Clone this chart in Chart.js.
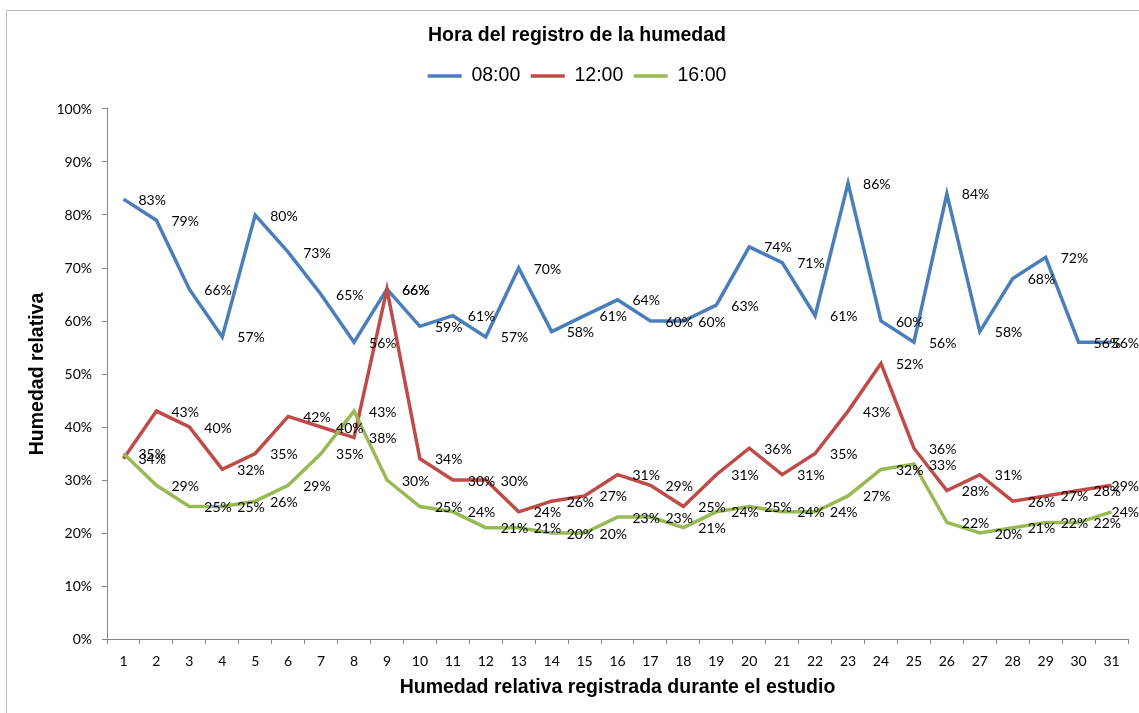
<!DOCTYPE html>
<html>
<head>
<meta charset="utf-8">
<script src="https://cdn.jsdelivr.net/npm/chart.js@4"></script>
<style>
    html, body { margin: 0; padding: 0; background: #fff; overflow: hidden; }
    .marco { position: absolute; left: 6px; top: 10px; width: 2000px; height: 2000px;
             border-left: 1px solid #bcbcbc; border-top: 1px solid #bcbcbc; }
    #grafico { position: absolute; left: 0; top: 0; }
</style>
</head>
<body>
<div class="marco"></div>
<canvas id="grafico" width="1139" height="713"></canvas>
<script>
// dias del estudio
const dias = ["1", "2", "3", "4", "5", "6", "7", "8", "9", "10", "11", "12", "13", "14", "15", "16",
    "17", "18", "19", "20", "21", "22", "23", "24", "25", "26", "27", "28", "29", "30", "31"];

// humedad relativa (%) por hora de registro
const hum0800 = [83, 79, 66, 57, 80, 73, 65, 56, 66, 59, 61, 57, 70, 58, 61, 64,
    60, 60, 63, 74, 71, 61, 86, 60, 56, 84, 58, 68, 72, 56, 56];
const hum1200 = [34, 43, 40, 32, 35, 42, 40, 38, 66, 34, 30, 30, 24, 26, 27, 31,
    29, 25, 31, 36, 31, 35, 43, 52, 36, 28, 31, 26, 27, 28, 29];
const hum1600 = [35, 29, 25, 25, 26, 29, 35, 43, 30, 25, 24, 21, 21, 20, 20, 23,
    23, 21, 24, 25, 24, 24, 27, 32, 33, 22, 20, 21, 22, 22, 24];

const series = ["08:00", "12:00", "16:00"];
const colores = ["#4a7ebb", "#be4b48", "#98b954"];
const valores = [hum0800, hum1200, hum1600];

const fuenteTitulo = "'Liberation Sans', Arial, sans-serif";
const fuenteTexto = "Lato, 'Open Sans', sans-serif";

// etiquetas de datos a la derecha de cada punto (como en Excel),
// sin salirse del borde derecho
const etiquetas = {
    id: "etiquetas",
    afterDatasetsDraw(chart) {
        const ctx = chart.ctx;
        ctx.save();
        ctx.font = "14px " + fuenteTexto;
        ctx.fillStyle = "#000";
        ctx.textAlign = "left";
        ctx.textBaseline = "middle";
        chart.data.datasets.forEach((ds, i) => {
            chart.getDatasetMeta(i).data.forEach((pt, j) => {
                const txt = ds.data[j] + "%";
                const x = Math.min(pt.x + 15, chart.width - ctx.measureText(txt).width);
                ctx.fillText(txt, x, pt.y + 1);
            });
        });
        ctx.restore();
    }
};

new Chart(document.getElementById("grafico"), {
    type: "line",
    data: {
        labels: dias,
        datasets: series.map((nombre, i) => ({
            label: nombre,
            data: valores[i],
            xAxisID: "x",
            yAxisID: "y",
            borderColor: colores[i],
            backgroundColor: colores[i],
            borderWidth: 3.5,
            pointRadius: 0,
            tension: 0,
            fill: false,
            order: 2 - i // verde arriba, azul abajo
        }))
    },
    options: {
        responsive: false,
        animation: false,
        layout: { padding: { left: 26, right: 11, top: 0, bottom: 0 } },
        plugins: {
            tooltip: { enabled: false },
            title: {
                display: true,
                text: "Hora del registro de la humedad",
                color: "#000",
                font: { family: fuenteTitulo, size: 19.5, weight: "bold" },
                padding: { top: 24.3, bottom: 8 }
            },
            legend: {
                position: "top",
                labels: {
                    usePointStyle: true,
                    pointStyle: "line",
                    pointStyleWidth: 34,
                    padding: 10.5,
                    color: "#000",
                    font: { family: fuenteTitulo, size: 19.5 },
                    sort: (a, b) => a.datasetIndex - b.datasetIndex
                }
            }
        },
        scales: {
            x: {
                type: "category",
                offset: true,
                grid: { offset: true, drawOnChartArea: false, tickLength: 5, color: "#868686" },
                border: { color: "#868686" },
                ticks: { color: "#000", padding: 8.6, font: { family: fuenteTexto, size: 14 } },
                title: {
                    display: true,
                    text: "Humedad relativa registrada durante el estudio",
                    color: "#000",
                    font: { family: fuenteTitulo, size: 19.5, weight: "bold" },
                    padding: { top: 0, bottom: 13.3 }
                },
                afterFit: (s) => { s.height = 74; }
            },
            // eje vacio solo para dejar aire debajo de la leyenda
            xArriba: {
                type: "category",
                position: "top",
                grid: { display: false },
                ticks: { display: false },
                border: { display: false },
                afterFit: (s) => { s.height = 13.3; }
            },
            y: {
                min: 0,
                max: 100,
                grid: { drawOnChartArea: false, tickLength: 5, color: "#868686" },
                border: { color: "#868686" },
                ticks: {
                    stepSize: 10,
                    color: "#000",
                    padding: 10,
                    font: { family: fuenteTexto, size: 14 },
                    callback: (v) => v + "%"
                },
                title: {
                    display: true,
                    text: "Humedad relativa",
                    color: "#000",
                    font: { family: fuenteTitulo, size: 19.5, weight: "bold" },
                    padding: { top: 0.3, bottom: 0 }
                },
                afterFit: (s) => { s.width = 81; }
            }
        }
    },
    plugins: [etiquetas]
});
</script>
</body>
</html>
